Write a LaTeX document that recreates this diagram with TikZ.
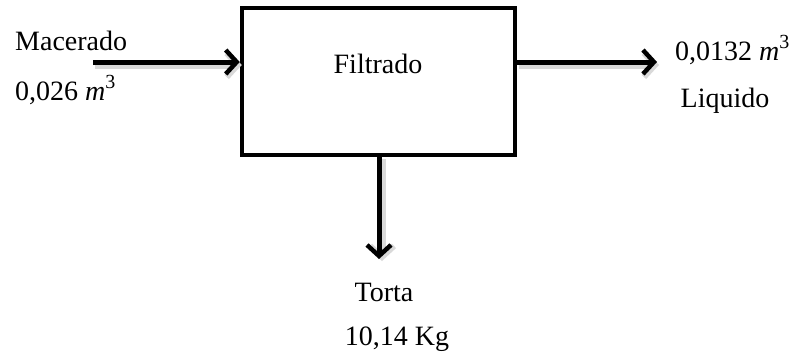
\documentclass[tikz,border=0pt]{standalone}
\usepackage{fontspec}
\setmainfont{Liberation Serif}
\usetikzlibrary{arrows.meta}
\newcommand{\cube}{\raisebox{0.42em}{\fontsize{20}{22}\selectfont 3}}
\tikzset{
  flow/.style={line width=5pt, -{Straight Barb[length=11pt,width=24pt,line width=4.5pt]}},
  flowshadow/.style={line width=7pt, draw=black!15, -{Straight Barb[length=11pt,width=24pt,line width=6pt]}},
  unit/.style={draw, line width=4.5pt, minimum width=273pt, minimum height=147pt, inner sep=0pt},
  lbl/.style={font=\fontsize{28}{32}\selectfont, inner sep=0pt}
}
\begin{document}
\begin{tikzpicture}[x=1pt,y=-1pt]
  \useasboundingbox (0,0) rectangle (806,360);
  % process unit
  \node[unit] (box) at (378.5,81.5) {};
  \node[lbl] (filt) at (378,64) {Filtrado};
  % stream ends
  \coordinate (inA) at (93,62);
  \coordinate (outB) at (657,62);
  \coordinate (downB) at (379,259);
  % soft shadows under the streams
  \draw[flowshadow] ([shift={(2,3)}]inA) -- ([shift={(2,3)}]box.west |- inA);
  \draw[flowshadow] ([shift={(2,3)}]box.east |- outB) -- ([shift={(2,3)}]outB);
  \draw[flowshadow] ([shift={(3,2)}]box.south -| downB) -- ([shift={(3,2)}]downB);
  % streams
  \draw[flow] (inA) -- (box.west |- inA);
  \draw[flow] (box.east |- outB) -- (outB);
  \draw[flow] (box.south -| downB) -- (downB);
  % labels
  \node[lbl, anchor=west] (mac) at (15,41) {Macerado};
  \node[lbl, anchor=west] (macv) at (15,90) {0,026 \textit{m}\cube};
  \node[lbl, anchor=west] (liqv) at (675,50) {0,0132 \textit{m}\cube};
  \node[lbl] (liq) at (725,101) {Liquido};
  \node[lbl] (tor) at (384,292) {Torta};
  \node[lbl] (torv) at (397,339) {10,14 Kg};
\end{tikzpicture}
\end{document}
